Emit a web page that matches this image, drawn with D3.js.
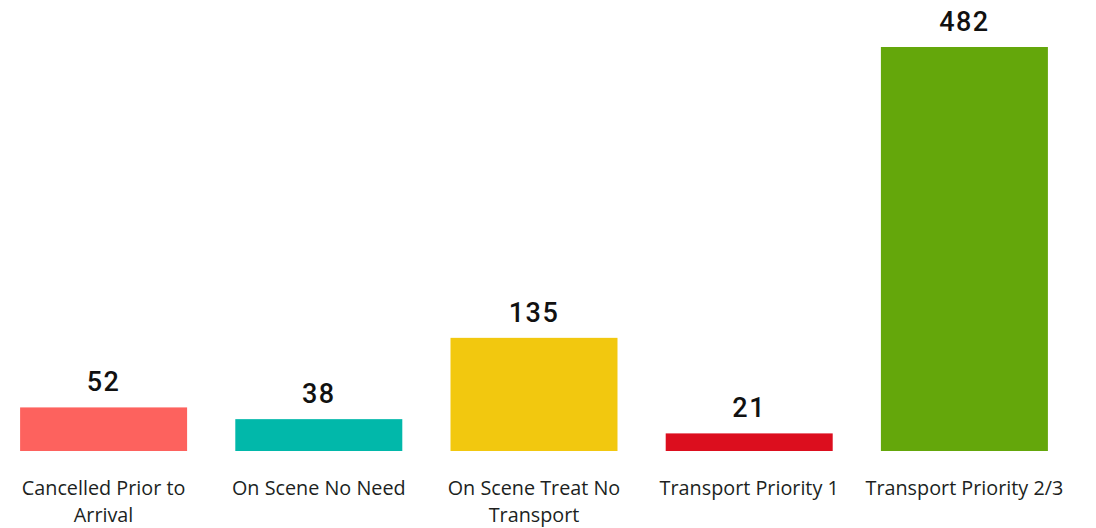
<!DOCTYPE html>
<html>
<head>
<meta charset="utf-8">
<script src="https://cdn.jsdelivr.net/npm/d3@7"></script>
<style>
  body { margin: 0; background: #fff; }
  .val { font-family: Roboto, "DejaVu Sans", sans-serif; font-size: 27px; font-weight: 500; fill: #111; letter-spacing: 1.5px; }
  .cat { font-family: "Open Sans", "Noto Sans", sans-serif; font-size: 19.8px; fill: #201f1e; }
</style>
</head>
<body>
<div id="chart"></div>
<script>
var categories = ["Cancelled Prior to Arrival", "On Scene No Need", "On Scene Treat No Transport", "Transport Priority 1", "Transport Priority 2/3"];
var counts = [52, 38, 135, 21, 482];
var colors = ["#FD625E", "#01B8AA", "#F2C80F", "#DC0E1E", "#64A70B"];

var width = 1096, height = 528;

var data = categories.map(function(c, i){ return {name: c, value: counts[i], color: colors[i]}; });

var svg = d3.select("#chart").append("svg")
    .attr("width", width)
    .attr("height", height);

var x = d3.scaleBand()
    .domain(categories)
    .range([-4, 1072])
    .paddingInner(0.224)
    .paddingOuter(0.112);

var y = d3.scaleLinear()
    .domain([0, d3.max(counts)])
    .range([451, 47]);

svg.selectAll(".bar")
    .data(data)
  .enter().append("rect")
    .attr("class", "bar")
    .attr("x", function(d){ return x(d.name); })
    .attr("y", function(d){ return y(d.value); })
    .attr("width", x.bandwidth())
    .attr("height", function(d){ return y(0) - y(d.value); })
    .attr("fill", function(d){ return d.color; });

svg.selectAll(".val")
    .data(data)
  .enter().append("text")
    .attr("class", "val")
    .attr("x", function(d){ return x(d.name) + x.bandwidth() / 2; })
    .attr("y", function(d){ return y(d.value) - 16; })
    .attr("text-anchor", "middle")
    .text(function(d){ return d.value; });

// category labels, wrapped to the band step
var cats = svg.selectAll(".cat")
    .data(data)
  .enter().append("text")
    .attr("class", "cat")
    .attr("text-anchor", "middle")
    .attr("x", function(d){ return x(d.name) + x.bandwidth() / 2; })
    .attr("y", 495);

cats.each(function(d){
    var el = d3.select(this),
        words = d.name.split(" "),
        maxW = x.step() - 8,
        line = [],
        cx = x(d.name) + x.bandwidth() / 2;
    var tspan = el.append("tspan").attr("x", cx).attr("dy", 0);
    words.forEach(function(w){
        line.push(w);
        tspan.text(line.join(" "));
        if (tspan.node().getComputedTextLength() > maxW && line.length > 1) {
            line.pop();
            tspan.text(line.join(" "));
            line = [w];
            tspan = el.append("tspan").attr("x", cx).attr("dy", 27).text(w);
        }
    });
});
</script>
</body>
</html>
